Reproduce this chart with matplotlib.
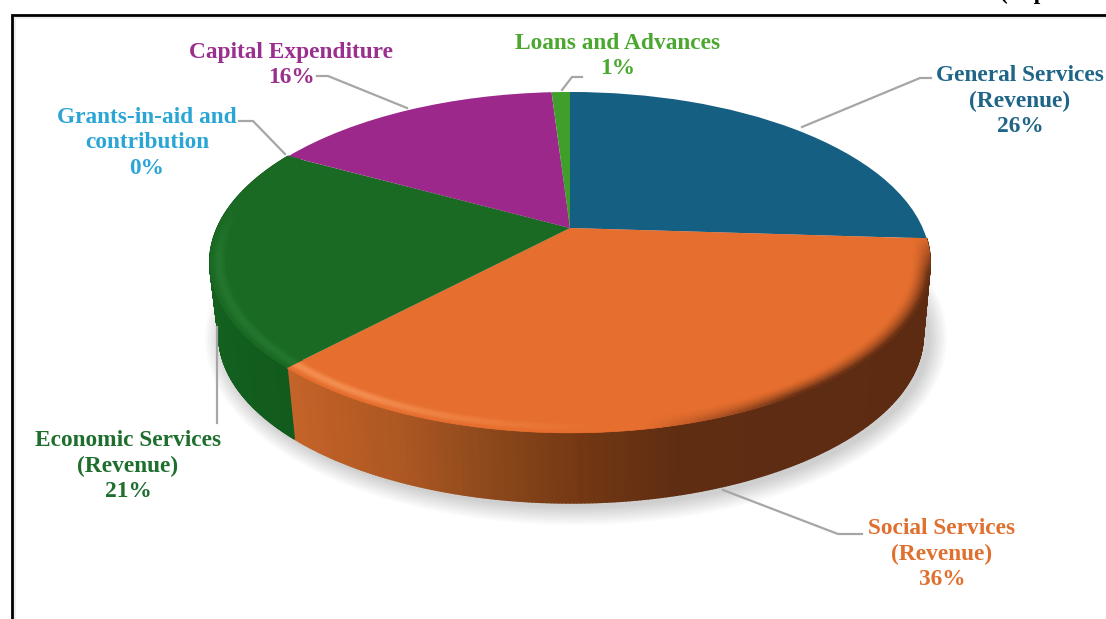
import numpy as np
import matplotlib
matplotlib.use("Agg")
import matplotlib.pyplot as plt
from matplotlib.collections import PolyCollection
from matplotlib.colors import to_rgb
from matplotlib.patches import Ellipse
from matplotlib.path import Path
from matplotlib.transforms import Transform

# ---- data ----
categories = ["General Services\n(Revenue)", "Social Services\n(Revenue)", "Economic Services\n(Revenue)",
              "Grants-in-aid and\ncontribution", "Capital Expenditure", "Loans and Advances"]
values = [26, 36, 21, 0, 16, 1]
slice_colors = ["#155f82", "#e66e2e", "#1a6a24", "#2ba5d6", "#9c288c", "#3f9f2a"]
label_colors = ["#1f6587", "#e0702f", "#1e6e2e", "#2ba5d6", "#9a2f8e", "#4aa82e"]
unit_note = "(in per cent)"

plt.rcParams["font.family"] = ["Liberation Serif", "DejaVu Serif"]
fig = plt.figure(figsize=(11.06, 6.19), dpi=100, facecolor="white")
ax = fig.add_axes([0, 0, 1, 1])

# geometry of the tilted disc, in pixels
CX, CY = 570.0, 228.0
A_X, A_Y, K = 352.7, 163.5, 0.202
TOP_C, TOP_R = (570.0, 262.5), (360.0, 170.5)
BOT_C, BOT_R = (571.0, 335.0), (352.0, 168.0)


def project(x, y):
    w = 1 + K * y
    return CX + A_X * x / w, CY - A_Y * y / w


class Perspective(Transform):
    input_dims = output_dims = 2
    is_separable = False
    has_inverse = False

    def transform_non_affine(self, pts):
        pts = np.asarray(pts, float)
        return np.column_stack(project(pts[:, 0], pts[:, 1]))

    def transform_path_non_affine(self, path):
        verts = self.transform_non_affine(path.vertices)
        return Path(verts, path.codes)


wedges, _ = ax.pie(values, colors=slice_colors, startangle=90, counterclock=False, radius=1.0)
persp = Perspective() + ax.transData
for w in wedges:
    w.set_transform(persp)
    w.set_clip_on(False)
    w.set_edgecolor("none")
    w.set_zorder(5)

ax.set_aspect("auto")
ax.set_xlim(0, 1106)
ax.set_ylim(619, 0)
ax.axis("off")

# soft shadow under the disc
for i in range(12):
    g = 1.6 * (12 - i)
    ax.add_patch(Ellipse((BOT_C[0] + 5, BOT_C[1] + 3), 2 * (BOT_R[0] + g), 2 * (BOT_R[1] + g),
                         fc="#000000", ec="none", alpha=0.015, zorder=1))

# slice angle limits
cum = np.cumsum([0] + values) / sum(values)
angle_limits = 90 - 360 * cum


def side_color(px, base):
    if base == "orange":
        xs = [288, 330, 400, 480, 580, 680, 935]
        cs = ["#c4642a", "#bb5e26", "#ad5722", "#8f4a1c", "#733813", "#5f2d12", "#5c2b12"]
    else:
        xs = [210, 295]
        cs = ["#13601f", "#115a1d"]
    rgb = np.array([to_rgb(c) for c in cs])
    return [np.interp(px, xs, rgb[:, i]) for i in range(3)]


def rim_points(deg):
    t = np.radians(deg)
    return project(np.cos(t), np.sin(t))


def to_bottom(px, py):
    u = (px - TOP_C[0]) / TOP_R[0]
    v = (py - TOP_C[1]) / TOP_R[1]
    return BOT_C[0] + BOT_R[0] * u, BOT_C[1] + BOT_R[1] * v


# outer wall of the disc
polys, cols = [], []
for i, name in [(1, "orange"), (2, "green")]:
    a = np.linspace(angle_limits[i], angle_limits[i + 1], 260)
    xt, yt = rim_points(a)
    xb, yb = to_bottom(xt, yt)
    for j in range(len(a) - 1):
        polys.append([(xt[j], yt[j]), (xt[j + 1], yt[j + 1]), (xb[j + 1], yb[j + 1]), (xb[j], yb[j])])
        cols.append(side_color(0.5 * (xt[j] + xt[j + 1]), name))
ax.add_collection(PolyCollection(polys, facecolors=cols, edgecolors=cols, linewidths=1.2, zorder=3))


# bevel along the front edge of the top face
def mix(c1, c2, f):
    return [c1[k] * (1 - f) + c2[k] * f for k in range(3)]


face_o, face_g = to_rgb(slice_colors[1]), to_rgb(slice_colors[2])
light_o, light_g, dark_o = to_rgb("#f8975a"), to_rgb("#2f8238"), to_rgb("#5c2b12")
radii = np.linspace(0.952, 1.0, 11)
polys, cols = [], []
for i in (1, 2):
    a = np.linspace(angle_limits[i], angle_limits[i + 1], 130)
    for k in range(len(radii) - 1):
        r0, r1 = radii[k], radii[k + 1]
        f = (k + 0.5) / (len(radii) - 1)
        for j in range(len(a) - 1):
            t0, t1 = np.radians(a[j]), np.radians(a[j + 1])
            p = [project(r0 * np.cos(t0), r0 * np.sin(t0)), project(r0 * np.cos(t1), r0 * np.sin(t1)),
                 project(r1 * np.cos(t1), r1 * np.sin(t1)), project(r1 * np.cos(t0), r1 * np.sin(t0))]
            d = 0.5 * (a[j] + a[j + 1])
            if i == 1:
                lit = np.clip((-d - 85) / 35, 0, 1)
                dk = np.clip((-d - 80) / -22, 0, 1) * np.clip((-d - 3) / 12, 0, 1)
                c = mix(face_o, light_o, lit * np.sin(np.pi * f) ** 2 * 0.8)
                c = mix(c, dark_o, dk * f ** 1.6)
            else:
                lit = np.clip((d + 188) / 18, 0, 1)
                c = mix(face_g, light_g, lit * np.sin(np.pi * f) ** 2 * 0.5)
            polys.append(p)
            cols.append(c)
ax.add_collection(PolyCollection(polys, facecolors=cols, edgecolors=cols, linewidths=0.4, zorder=6))

# picture frame (cropped by the image on the right and bottom)
ax.plot([12, 12, 1106], [619, 15, 15], color="#000000", lw=2.0, solid_joinstyle="miter", zorder=9)
ax.plot([15, 15, 1106], [619, 18, 18], color="#ececec", lw=1.2, zorder=8)
ax.text(1000, -1.5, unit_note, ha="left", va="baseline", fontsize=17, fontweight="bold", color="black")

# leader lines
leaders = [
    ([802, 920, 931], [127, 78, 78]),
    ([723, 838, 862], [490, 534, 534]),
    ([217, 217], [327, 423]),
    ([285, 253, 239], [154, 121, 121]),
    ([407, 328, 317], [108, 76, 76]),
    ([562, 572, 582], [90, 77, 77]),
]
for lx, ly in leaders:
    ax.plot(lx, ly, color="#a6a6a6", lw=1.6, zorder=4, solid_joinstyle="miter")

# labels
label_pos = [(1020, 101), (942, 554), (128, 466), (147, 143), (291, 65), (618, 56)]
for name, v, col, (x, y) in zip(categories, values, label_colors, label_pos):
    ax.text(x, y, f"{name}\n{v}%", color=col, ha="center", va="center", fontsize=16.8, fontweight="bold",
            linespacing=1.3, zorder=10)

fig.savefig("out.png", dpi=100, facecolor="white")
